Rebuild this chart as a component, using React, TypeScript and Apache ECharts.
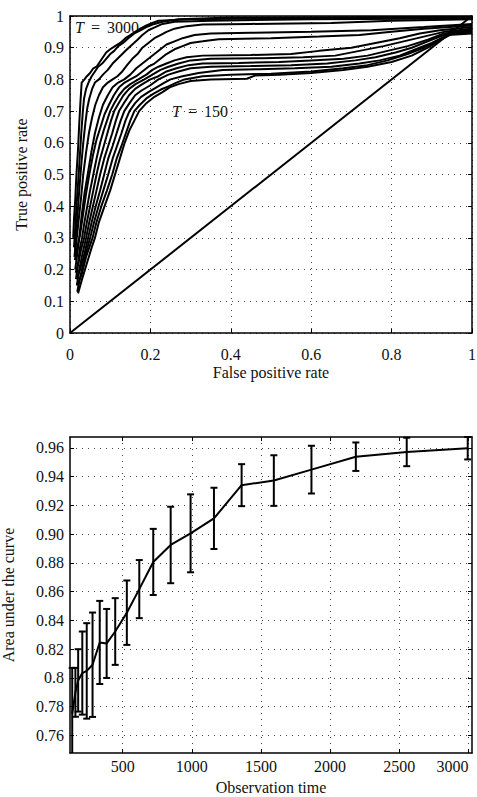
import React, { useEffect, useRef } from 'react';
import * as echarts from 'echarts';

const FONT = '"Liberation Serif", "Times New Roman", serif';
const INK = '#111';

// ---------- Top panel: ROC curves (False positive rate, True positive rate) ----------
const roc01 = [[0.008,0.30],[0.01,0.36],[0.013,0.42],[0.016,0.5],[0.02,0.58],[0.023,0.66],[0.026,0.73],[0.029,0.79],[0.036,0.8],[0.042,0.81],[0.05,0.82],[0.058,0.835],[0.066,0.84],[0.074,0.855],[0.082,0.87],[0.09,0.885],[0.1,0.895],[0.112,0.905],[0.125,0.915],[0.138,0.93],[0.15,0.94],[0.162,0.95],[0.175,0.96],[0.19,0.97],[0.205,0.978],[0.22,0.985],[0.3,0.99],[0.55,0.993],[1,0.995]];
const roc02 = [[0.01,0.27],[0.013,0.33],[0.016,0.4],[0.02,0.47],[0.024,0.55],[0.028,0.63],[0.032,0.7],[0.035,0.74],[0.04,0.77],[0.046,0.79],[0.054,0.81],[0.062,0.825],[0.07,0.84],[0.08,0.85],[0.09,0.865],[0.1,0.88],[0.11,0.89],[0.12,0.905],[0.132,0.915],[0.145,0.93],[0.16,0.945],[0.175,0.955],[0.19,0.965],[0.21,0.975],[0.23,0.982],[0.27,0.99],[0.4,0.995],[1,0.998]];
const roc03 = [[0.012,0.25],[0.015,0.31],[0.019,0.38],[0.023,0.45],[0.028,0.53],[0.033,0.6],[0.038,0.66],[0.043,0.71],[0.048,0.74],[0.055,0.77],[0.062,0.79],[0.072,0.8],[0.082,0.815],[0.094,0.83],[0.106,0.85],[0.118,0.865],[0.13,0.88],[0.142,0.895],[0.155,0.91],[0.168,0.925],[0.18,0.94],[0.195,0.955],[0.212,0.965],[0.23,0.975],[0.26,0.982],[0.35,0.985],[0.6,0.99],[1,0.992]];
const roc04 = [[0.011,0.24],[0.016,0.29],[0.021,0.35],[0.027,0.42],[0.033,0.5],[0.04,0.57],[0.047,0.63],[0.055,0.68],[0.063,0.72],[0.072,0.75],[0.082,0.775],[0.094,0.79],[0.106,0.8],[0.118,0.81],[0.13,0.825],[0.142,0.845],[0.155,0.865],[0.168,0.88],[0.18,0.9],[0.195,0.915],[0.21,0.93],[0.225,0.94],[0.24,0.95],[0.26,0.96],[0.29,0.968],[0.33,0.973],[0.45,0.975],[0.65,0.978],[0.8,0.985],[1,0.99]];
const roc05 = [[0.013,0.2],[0.018,0.25],[0.023,0.3],[0.029,0.37],[0.036,0.44],[0.044,0.5],[0.053,0.57],[0.062,0.63],[0.072,0.68],[0.082,0.72],[0.094,0.75],[0.106,0.775],[0.12,0.79],[0.135,0.8],[0.15,0.815],[0.165,0.835],[0.18,0.85],[0.195,0.865],[0.21,0.88],[0.225,0.895],[0.24,0.91],[0.26,0.92],[0.28,0.93],[0.31,0.94],[0.35,0.945],[0.45,0.947],[0.6,0.95],[0.75,0.955],[0.88,0.965],[1,0.975]];
const roc06 = [[0.012,0.23],[0.018,0.27],[0.025,0.31],[0.032,0.37],[0.04,0.44],[0.048,0.5],[0.057,0.56],[0.066,0.61],[0.076,0.65],[0.086,0.69],[0.097,0.72],[0.109,0.75],[0.122,0.775],[0.136,0.79],[0.15,0.8],[0.165,0.81],[0.18,0.825],[0.195,0.84],[0.21,0.85],[0.225,0.865],[0.24,0.88],[0.26,0.895],[0.28,0.905],[0.3,0.915],[0.33,0.92],[0.37,0.927],[0.5,0.93],[0.62,0.935],[0.72,0.94],[0.8,0.95],[0.88,0.96],[1,0.97]];
const roc07 = [[0.015,0.17],[0.02,0.22],[0.025,0.27],[0.03,0.3],[0.036,0.35],[0.043,0.4],[0.05,0.45],[0.058,0.5],[0.066,0.55],[0.075,0.6],[0.084,0.64],[0.092,0.67],[0.1,0.7],[0.11,0.725],[0.122,0.75],[0.135,0.77],[0.15,0.785],[0.17,0.8],[0.19,0.815],[0.205,0.83],[0.22,0.84],[0.24,0.85],[0.26,0.86],[0.29,0.87],[0.33,0.875],[0.45,0.877],[0.55,0.88],[0.62,0.89],[0.7,0.9],[0.76,0.915],[0.82,0.93],[0.87,0.945],[0.92,0.955],[1,0.965]];
const roc08 = [[0.014,0.19],[0.021,0.22],[0.027,0.26],[0.035,0.3],[0.042,0.35],[0.05,0.4],[0.058,0.45],[0.066,0.5],[0.075,0.55],[0.084,0.59],[0.093,0.63],[0.102,0.67],[0.11,0.7],[0.121,0.725],[0.133,0.75],[0.147,0.77],[0.163,0.785],[0.185,0.8],[0.205,0.815],[0.225,0.83],[0.245,0.84],[0.27,0.85],[0.3,0.86],[0.35,0.865],[0.48,0.867],[0.58,0.87],[0.66,0.875],[0.72,0.89],[0.78,0.905],[0.83,0.92],[0.88,0.935],[0.93,0.95],[1,0.96]];
const roc09 = [[0.017,0.15],[0.023,0.2],[0.031,0.25],[0.04,0.3],[0.048,0.35],[0.057,0.4],[0.066,0.45],[0.075,0.5],[0.085,0.55],[0.095,0.59],[0.105,0.63],[0.114,0.67],[0.122,0.7],[0.134,0.725],[0.147,0.75],[0.162,0.77],[0.18,0.785],[0.2,0.8],[0.22,0.81],[0.24,0.825],[0.265,0.835],[0.295,0.845],[0.33,0.85],[0.42,0.852],[0.52,0.855],[0.6,0.86],[0.68,0.865],[0.74,0.875],[0.79,0.89],[0.84,0.905],[0.89,0.925],[0.93,0.945],[1,0.955]];
const roc10 = [[0.016,0.17],[0.025,0.2],[0.034,0.24],[0.045,0.3],[0.054,0.35],[0.064,0.4],[0.075,0.45],[0.085,0.5],[0.095,0.55],[0.106,0.59],[0.116,0.63],[0.126,0.67],[0.135,0.7],[0.148,0.725],[0.162,0.75],[0.178,0.765],[0.198,0.78],[0.22,0.8],[0.245,0.815],[0.27,0.825],[0.3,0.835],[0.35,0.84],[0.45,0.842],[0.55,0.845],[0.64,0.85],[0.71,0.86],[0.76,0.87],[0.81,0.885],[0.85,0.9],[0.89,0.92],[0.93,0.94],[1,0.95]];
const roc11 = [[0.018,0.13],[0.026,0.18],[0.037,0.24],[0.05,0.3],[0.06,0.35],[0.071,0.4],[0.083,0.45],[0.095,0.5],[0.106,0.55],[0.117,0.59],[0.128,0.63],[0.138,0.67],[0.148,0.7],[0.162,0.725],[0.177,0.745],[0.195,0.76],[0.215,0.775],[0.235,0.79],[0.25,0.8],[0.28,0.81],[0.32,0.82],[0.38,0.83],[0.47,0.832],[0.56,0.835],[0.65,0.84],[0.72,0.85],[0.77,0.86],[0.82,0.875],[0.86,0.895],[0.9,0.915],[0.94,0.94],[1,0.945]];
const roc12 = [[0.017,0.15],[0.028,0.18],[0.04,0.24],[0.056,0.3],[0.066,0.35],[0.078,0.4],[0.092,0.45],[0.105,0.5],[0.116,0.55],[0.128,0.59],[0.139,0.63],[0.15,0.67],[0.16,0.7],[0.174,0.72],[0.19,0.74],[0.208,0.755],[0.226,0.768],[0.245,0.778],[0.265,0.79],[0.285,0.8],[0.33,0.81],[0.4,0.815],[0.5,0.818],[0.6,0.825],[0.68,0.835],[0.74,0.845],[0.79,0.86],[0.84,0.88],[0.88,0.9],[0.92,0.925],[0.95,0.945],[1,0.95]];
const roc13 = [[0.02,0.125],[0.03,0.17],[0.042,0.22],[0.054,0.27],[0.062,0.3],[0.072,0.35],[0.086,0.4],[0.1,0.45],[0.112,0.5],[0.124,0.55],[0.136,0.6],[0.148,0.64],[0.16,0.67],[0.172,0.7],[0.19,0.725],[0.21,0.745],[0.23,0.76],[0.248,0.775],[0.27,0.785],[0.3,0.795],[0.35,0.8],[0.44,0.802],[0.46,0.812],[0.52,0.815],[0.6,0.82],[0.68,0.83],[0.74,0.84],[0.8,0.855],[0.85,0.875],[0.89,0.9],[0.93,0.93],[0.96,0.95],[1,0.96]];
const rocCurves = [roc01, roc02, roc03, roc04, roc05, roc06, roc07, roc08, roc09, roc10, roc11, roc12, roc13];
const chanceLine = [[0, 0], [1, 1]];

// ---------- Bottom panel: AUC vs observation time ----------
const obsTime = [135, 158, 178, 208, 240, 282, 334, 384, 446, 530, 620, 721, 847, 991, 1160, 1360, 1593, 1865, 2186, 2554, 2995];
const aucMean = [0.775, 0.790, 0.7983, 0.8034, 0.8049, 0.8092, 0.8247, 0.824, 0.8323, 0.8454, 0.8618, 0.8807, 0.8925, 0.9006, 0.911, 0.9341, 0.9373, 0.9449, 0.9539, 0.9572, 0.9598];
const aucErr = [0.032, 0.017, 0.0217, 0.0289, 0.0332, 0.0363, 0.0289, 0.024, 0.0232, 0.0224, 0.0202, 0.023, 0.0266, 0.0271, 0.0213, 0.0146, 0.0176, 0.0166, 0.0099, 0.0099, 0.0078];
const aucXTicks = [500, 1000, 1500, 2000, 2500, 3000];
const aucYTicks = [0.76, 0.78, 0.8, 0.82, 0.84, 0.86, 0.88, 0.9, 0.92, 0.94, 0.96];
const aucYLabels = ['0.76', '0.78', '0.8', '0.82', '0.84', '0.86', '0.88', '0.90', '0.92', '0.94', '0.96'];
const AUC_X_MIN = 119;
const AUC_X_MAX = 3026;
const AUC_Y_MIN = 0.7478;
const AUC_Y_MAX = 0.9676;

const axisLine = { show: true, onZero: false, lineStyle: { color: '#000', width: 1.5 } };
const axisTick = { show: true, inside: true, length: 4, lineStyle: { color: '#000', width: 1 } };
const gridLine = { show: true, lineStyle: { type: [1, 5], color: '#444', width: 1 } };
const labelText = { fontFamily: FONT, fontSize: 16, color: INK };

export default function App() {
  const ref = useRef<HTMLDivElement>(null);

  useEffect(() => {
    if (!ref.current) return;
    const chart = echarts.init(ref.current, undefined, { renderer: 'svg' });

    const rocSeries = rocCurves.map((c) => ({
      type: 'line',
      xAxisIndex: 0,
      yAxisIndex: 0,
      data: c,
      showSymbol: false,
      lineStyle: { color: '#000', width: 2 },
      silent: true,
    }));

    const tText = (n: string) => ({
      text: `{t|T}{e|=}{n|${n}}`,
      verticalAlign: 'middle',
      rich: {
        t: { fontFamily: FONT, fontSize: 16, fontStyle: 'italic', fill: INK },
        e: { fontFamily: FONT, fontSize: 16, fill: INK, padding: [0, 7, 0, 7] },
        n: { fontFamily: FONT, fontSize: 16, fill: INK },
      },
    });

    const option: any = {
      animation: false,
      grid: [
        { left: 70, top: 16, width: 402, height: 317, containLabel: false, outerBoundsMode: 'none' },
        { left: 70, top: 437, width: 402, height: 316, containLabel: false, outerBoundsMode: 'none' },
      ],
      xAxis: [
        {
          gridIndex: 0, type: 'value', min: 0, max: 1, interval: 0.2, position: 'bottom',
          name: 'False positive rate', nameLocation: 'middle', nameGap: 31, nameTextStyle: labelText,
          axisLine, axisTick, axisLabel: { ...labelText, margin: 13 }, splitLine: gridLine,
        },
        {
          gridIndex: 0, type: 'value', min: 0, max: 1, interval: 0.2, position: 'top',
          axisLine, axisTick, axisLabel: { show: false }, splitLine: { show: false },
        },
        {
          gridIndex: 1, type: 'value', min: AUC_X_MIN, max: AUC_X_MAX, position: 'bottom',
          name: 'Observation time', nameLocation: 'middle', nameGap: 26, nameTextStyle: labelText,
          axisLine, axisTick: { ...axisTick, customValues: aucXTicks },
          axisLabel: {
            ...labelText, margin: 5, customValues: aucXTicks, alignMaxLabel: 'right',
            formatter: (v: number) => String(Math.round(v)),
          },
          splitLine: gridLine,
        },
        {
          gridIndex: 1, type: 'value', min: AUC_X_MIN, max: AUC_X_MAX, position: 'top',
          axisLine, axisTick: { ...axisTick, customValues: aucXTicks },
          axisLabel: { show: false }, splitLine: { show: false },
        },
      ],
      yAxis: [
        {
          gridIndex: 0, type: 'value', min: 0, max: 1, interval: 0.1, position: 'left',
          name: 'True positive rate', nameLocation: 'middle', nameGap: 41, nameTextStyle: labelText,
          axisLine, axisTick, axisLabel: { ...labelText, margin: 6 }, splitLine: gridLine,
        },
        {
          gridIndex: 0, type: 'value', min: 0, max: 1, interval: 0.1, position: 'right',
          axisLine, axisTick, axisLabel: { show: false }, splitLine: { show: false },
        },
        {
          gridIndex: 1, type: 'value', min: AUC_Y_MIN, max: AUC_Y_MAX, position: 'left',
          name: 'Area under the curve', nameLocation: 'middle', nameGap: 54, nameTextStyle: labelText,
          axisLine, axisTick: { ...axisTick, customValues: aucYTicks },
          axisLabel: {
            ...labelText, margin: 6, customValues: aucYTicks,
            formatter: (v: number) => {
              const i = aucYTicks.findIndex((t) => Math.abs(t - v) < 1e-6);
              return i >= 0 ? aucYLabels[i] : '';
            },
          },
          splitLine: gridLine,
        },
        {
          gridIndex: 1, type: 'value', min: AUC_Y_MIN, max: AUC_Y_MAX, position: 'right',
          axisLine, axisTick: { ...axisTick, customValues: aucYTicks },
          axisLabel: { show: false }, splitLine: { show: false },
        },
      ],
      series: [
        ...rocSeries,
        {
          type: 'line', xAxisIndex: 0, yAxisIndex: 0, data: chanceLine, showSymbol: false,
          lineStyle: { color: '#000', width: 2 }, silent: true,
        },
        {
          type: 'line', xAxisIndex: 2, yAxisIndex: 2,
          data: obsTime.map((t, i) => [t, aucMean[i]]),
          showSymbol: false, lineStyle: { color: '#000', width: 2 }, silent: true,
        },
        {
          type: 'custom', xAxisIndex: 2, yAxisIndex: 2,
          data: obsTime.map((t, i) => [t, aucMean[i], aucErr[i]]),
          encode: { x: 0, y: 1 },
          silent: true,
          renderItem: (params: any, api: any) => {
            const x = api.value(0);
            const m = api.value(1);
            const e = api.value(2);
            const hiV = Math.min(m + e, AUC_Y_MAX);
            const loV = Math.max(m - e, AUC_Y_MIN);
            const top = api.coord([x, hiV]);
            const bot = api.coord([x, loV]);
            const hw = 3.5;
            const st = { stroke: '#000', lineWidth: 2 };
            const children: any[] = [
              { type: 'line', shape: { x1: top[0], y1: top[1], x2: bot[0], y2: bot[1] }, style: st },
            ];
            if (m + e <= AUC_Y_MAX + 1e-9) {
              children.push({ type: 'line', shape: { x1: top[0] - hw, y1: top[1], x2: top[0] + hw, y2: top[1] }, style: st });
            }
            if (m - e >= AUC_Y_MIN) {
              children.push({ type: 'line', shape: { x1: bot[0] - hw, y1: bot[1], x2: bot[0] + hw, y2: bot[1] }, style: st });
            }
            return { type: 'group', children };
          },
        },
      ],
      graphic: [
        { type: 'text', x: 75, y: 27, style: tText('3000') },
        { type: 'text', x: 172, y: 111, style: tText('150') },
      ],
    };

    chart.setOption(option);
    return () => chart.dispose();
  }, []);

  return (
    <div
      ref={ref}
      style={{ position: 'absolute', left: 0, top: 0, width: 477, height: 797, background: '#fff' }}
    />
  );
}
